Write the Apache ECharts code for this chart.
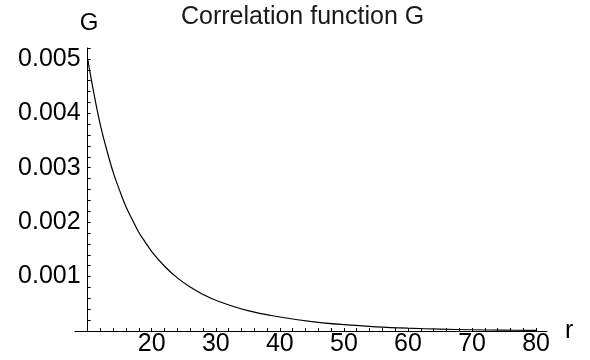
<!DOCTYPE html>
<html>
<head>
<meta charset="utf-8">
<script src="https://cdn.jsdelivr.net/npm/echarts@6/dist/echarts.min.js"></script>
<style>
    html, body { margin: 0; padding: 0; background: #fff; }
    #chart { width: 590px; height: 360px; }
</style>
</head>
<body>
<div id="chart"></div>
<script>
// 数据：r 与 G
const rValues = [10, 11, 12, 13, 14, 15, 16, 17, 18, 19, 20, 22, 24, 26, 28, 30, 35, 40, 45, 50, 55, 60, 65, 70, 75, 80];
const gValues = [0.00500, 0.00435, 0.00378, 0.00332, 0.00291, 0.00258, 0.00228, 0.00204, 0.00181, 0.00163,
    0.00146, 0.00119, 0.000976, 0.000807, 0.000672, 0.000564, 0.000374, 0.000257, 0.000172, 0.000116,
    0.0000768, 0.0000510, 0.0000342, 0.0000229, 0.0000154, 0.0000103];
const xTickLabels = [20, 30, 40, 50, 60, 70, 80];
const yTickLabels = [0.001, 0.002, 0.003, 0.004, 0.005];

const font = "'Liberation Sans', Arial, sans-serif";

const chart = echarts.init(document.getElementById("chart"));

const option = {
    backgroundColor: "#fff",
    animation: false,
    title: {
        text: "Correlation function G",
        left: 176,
        top: 0,
        textStyle: { color: "#1a1a1a", fontSize: 25, fontWeight: "normal", fontFamily: font },
    },
    grid: { left: 74.84, right: 43, top: 48, bottom: 29 },
    xAxis: {
        type: "value",
        min: 8,
        max: 81.7,
        interval: 2,
        name: "r",
        nameLocation: "end",
        nameGap: 18,
        nameTextStyle: { color: "#000", fontSize: 25, fontFamily: font },
        axisLine: { onZero: true, lineStyle: { color: "#000", width: 1 } },
        axisTick: { inside: true, length: 3, lineStyle: { color: "#000" } },
        axisLabel: {
            color: "#000",
            fontSize: 25,
            fontFamily: font,
            margin: 1,
            showMinLabel: false,
            showMaxLabel: false,
            formatter: (v) => {
                const n = Math.round(v);
                return Math.abs(v - n) < 1e-6 && xTickLabels.includes(n) ? String(n) : "";
            },
        },
        splitLine: { show: false },
    },
    yAxis: {
        type: "value",
        min: 0,
        max: 0.0052,
        interval: 0.0002,
        offset: -12.81,
        name: "G",
        nameLocation: "end",
        nameGap: 13,
        nameTextStyle: { color: "#000", fontSize: 24, fontFamily: font, align: "center", padding: [0, 0, 0, 3] },
        axisLine: { onZero: false, lineStyle: { color: "#000", width: 1 } },
        axisTick: { inside: true, length: 3, lineStyle: { color: "#000" } },
        axisLabel: {
            color: "#000",
            fontSize: 25,
            fontFamily: font,
            margin: 7,
            showMinLabel: false,
            formatter: (v) => {
                const hit = yTickLabels.find((l) => Math.abs(v - l) < 1e-9);
                return hit ? hit.toFixed(3) : "";
            },
        },
        splitLine: { show: false },
    },
    series: [
        {
            type: "line",
            data: rValues.map((r, i) => [r, gValues[i]]),
            smooth: 0.4,
            showSymbol: false,
            lineStyle: { color: "#000", width: 1.2 },
        },
    ],
};

chart.setOption(option);
</script>
</body>
</html>
